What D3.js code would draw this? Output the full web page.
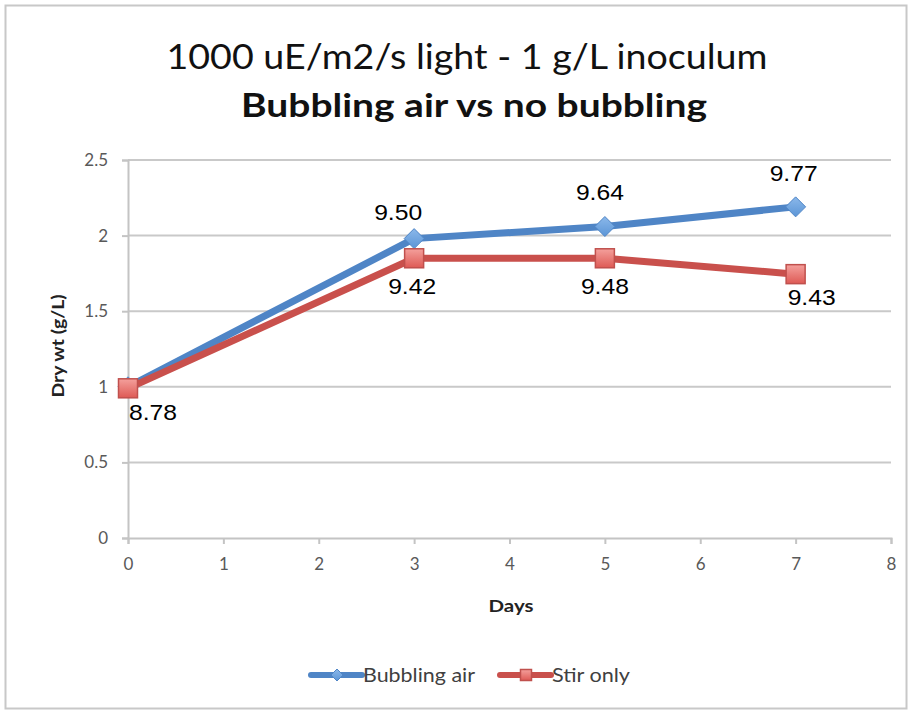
<!DOCTYPE html>
<html>
<head>
<meta charset="utf-8">
<script src="https://cdn.jsdelivr.net/npm/d3@7"></script>
<style>
  html, body { margin: 0; padding: 0; background: #fff; }
  svg { display: block; }
</style>
</head>
<body>
<svg id="chart" width="912" height="714"></svg>
<script>
// Dry weight over time for the two culture conditions
const days = [0, 3, 5, 7];
const bubblingAir = [1.0, 1.98, 2.06, 2.19];
const stirOnly = [0.99, 1.85, 1.85, 1.745];
// Values printed beside each point
const bubblingLabels = ["", "9.50", "9.64", "9.77"];
const stirLabels = ["8.78", "9.42", "9.48", "9.43"];
const xTicks = [0, 1, 2, 3, 4, 5, 6, 7, 8];
const yTicks = [0, 0.5, 1, 1.5, 2, 2.5];

// label placement relative to each point [dx, dy of baseline]
const bubblingLabelOffset = [[0, -26], [-16, -19], [-5, -27], [-2, -26]];
const stirLabelOffset = [[25, 32], [-2, 36], [0, 36], [16, 31]];

const svg = d3.select("#chart");
const W = 912, H = 714;
const blue = "#4f85c6", red = "#c9504c";
const sans = "Lato, 'Open Sans', sans-serif";

// outer frame
svg.append("rect").attr("x", 5.5).attr("y", 5.5).attr("width", W - 11).attr("height", H - 11)
  .attr("fill", "#fff").attr("stroke", "#c8c8c8").attr("stroke-width", 2);

const x = d3.scaleLinear().domain([0, 8]).range([128, 891]);
const y = d3.scaleLinear().domain([0, 2.5]).range([538, 160]);

// stretched text helper (wide glyphs)
function wide(sel, len) {
  return sel.attr("textLength", len).attr("lengthAdjust", "spacingAndGlyphs");
}

// titles
wide(svg.append("text").attr("x", 467).attr("y", 69).attr("text-anchor", "middle")
  .attr("font-family", sans).attr("font-size", 35).attr("fill", "#111"), 601)
  .text("1000 uE/m2/s light - 1 g/L inoculum");
wide(svg.append("text").attr("x", 474).attr("y", 117).attr("text-anchor", "middle")
  .attr("font-family", sans).attr("font-weight", "bold").attr("font-size", 33).attr("fill", "#111"), 466)
  .text("Bubbling air vs no bubbling");

// horizontal grid
svg.append("g").selectAll("line").data(yTicks.filter(d => d > 0)).join("line")
  .attr("x1", x(0)).attr("x2", x(8)).attr("y1", d => y(d)).attr("y2", d => y(d))
  .attr("stroke", "#c9c9c9").attr("stroke-width", 2);

// y axis
const yAxis = svg.append("g").attr("transform", `translate(${x(0)},0)`)
  .call(d3.axisLeft(y).tickValues(yTicks).tickFormat(d3.format("~g")).tickSizeOuter(0).tickSize(6).tickPadding(14));
// x axis
const xAxis = svg.append("g").attr("transform", `translate(0,${y(0)})`)
  .call(d3.axisBottom(x).tickValues(xTicks).tickSizeOuter(0).tickSize(6).tickPadding(14));
[yAxis, xAxis].forEach(g => {
  g.select(".domain").attr("stroke", "#c4c4c4").attr("stroke-width", 2);
  g.selectAll(".tick line").attr("stroke", "#c4c4c4").attr("stroke-width", 2);
  g.selectAll(".tick text").attr("fill", "#595959").attr("font-size", 17)
    .attr("font-family", sans);
});

// axis titles
wide(svg.append("text").attr("x", 511).attr("y", 612).attr("text-anchor", "middle")
  .attr("font-family", sans).attr("font-weight", "bold").attr("font-size", 17).attr("fill", "#222"), 45)
  .text("Days");
wide(svg.append("text").attr("transform", "translate(64,346) rotate(-90)").attr("text-anchor", "middle")
  .attr("font-family", sans).attr("font-weight", "bold").attr("font-size", 17).attr("fill", "#222"), 103)
  .text("Dry wt (g/L)");

const line = d3.line().x(d => x(d[0])).y(d => y(d[1]));
const bubPts = days.map((d, i) => [d, bubblingAir[i]]);
const stirPts = days.map((d, i) => [d, stirOnly[i]]);

const defs = svg.append("defs");
const gr = defs.append("linearGradient").attr("id", "sqFill").attr("x1", 0).attr("y1", 0).attr("x2", 0).attr("y2", 1);
gr.append("stop").attr("offset", "0%").attr("stop-color", "#f4a09c");
gr.append("stop").attr("offset", "100%").attr("stop-color", "#de5a55");
const gb = defs.append("linearGradient").attr("id", "dmFill").attr("x1", 0).attr("y1", 0).attr("x2", 0).attr("y2", 1);
gb.append("stop").attr("offset", "0%").attr("stop-color", "#8bb8ea");
gb.append("stop").attr("offset", "100%").attr("stop-color", "#5b95d6");

// series lines
svg.append("path").datum(bubPts).attr("d", line).attr("fill", "none")
  .attr("stroke", blue).attr("stroke-width", 7).attr("stroke-linejoin", "round");
svg.append("path").datum(stirPts).attr("d", line).attr("fill", "none")
  .attr("stroke", red).attr("stroke-width", 7).attr("stroke-linejoin", "round");

function diamond(g, cx, cy, r) {
  g.append("path").attr("d", `M${cx},${cy - r}L${cx + r},${cy}L${cx},${cy + r}L${cx - r},${cy}Z`)
    .attr("fill", "url(#dmFill)").attr("stroke", "#4f85c6").attr("stroke-width", 1);
}
function square(g, cx, cy, s) {
  g.append("rect").attr("x", cx - s / 2).attr("y", cy - s / 2).attr("width", s).attr("height", s)
    .attr("fill", "url(#sqFill)").attr("stroke", "#c0504d").attr("stroke-width", 1.5);
}

const marks = svg.append("g");
bubPts.forEach(p => diamond(marks, x(p[0]), y(p[1]), 10));
stirPts.forEach(p => square(marks, x(p[0]), y(p[1]), 19));

// data labels
const lab = svg.append("g").attr("font-family", "'Liberation Sans', Arial, sans-serif")
  .attr("font-size", 22).attr("fill", "#000").attr("text-anchor", "middle");
bubPts.forEach((p, i) => {
  if (!bubblingLabels[i]) return;
  const [dx, dy] = bubblingLabelOffset[i];
  wide(lab.append("text").attr("x", x(p[0]) + dx).attr("y", y(p[1]) + dy), 48).text(bubblingLabels[i]);
});
stirPts.forEach((p, i) => {
  const [dx, dy] = stirLabelOffset[i];
  wide(lab.append("text").attr("x", x(p[0]) + dx).attr("y", y(p[1]) + dy), 48).text(stirLabels[i]);
});

// legend
const leg = svg.append("g");
leg.append("line").attr("x1", 311).attr("x2", 362).attr("y1", 675).attr("y2", 675)
  .attr("stroke", blue).attr("stroke-width", 6).attr("stroke-linecap", "round");
diamond(leg, 337, 675, 6);
wide(leg.append("text").attr("x", 363).attr("y", 682).attr("font-family", sans)
  .attr("font-size", 19).attr("fill", "#404040"), 112).text("Bubbling air");
leg.append("line").attr("x1", 500).attr("x2", 551).attr("y1", 675).attr("y2", 675)
  .attr("stroke", red).attr("stroke-width", 6).attr("stroke-linecap", "round");
square(leg, 526, 675, 11);
wide(leg.append("text").attr("x", 552).attr("y", 682).attr("font-family", sans)
  .attr("font-size", 19).attr("fill", "#404040"), 78).text("Stir only");
</script>
</body>
</html>
